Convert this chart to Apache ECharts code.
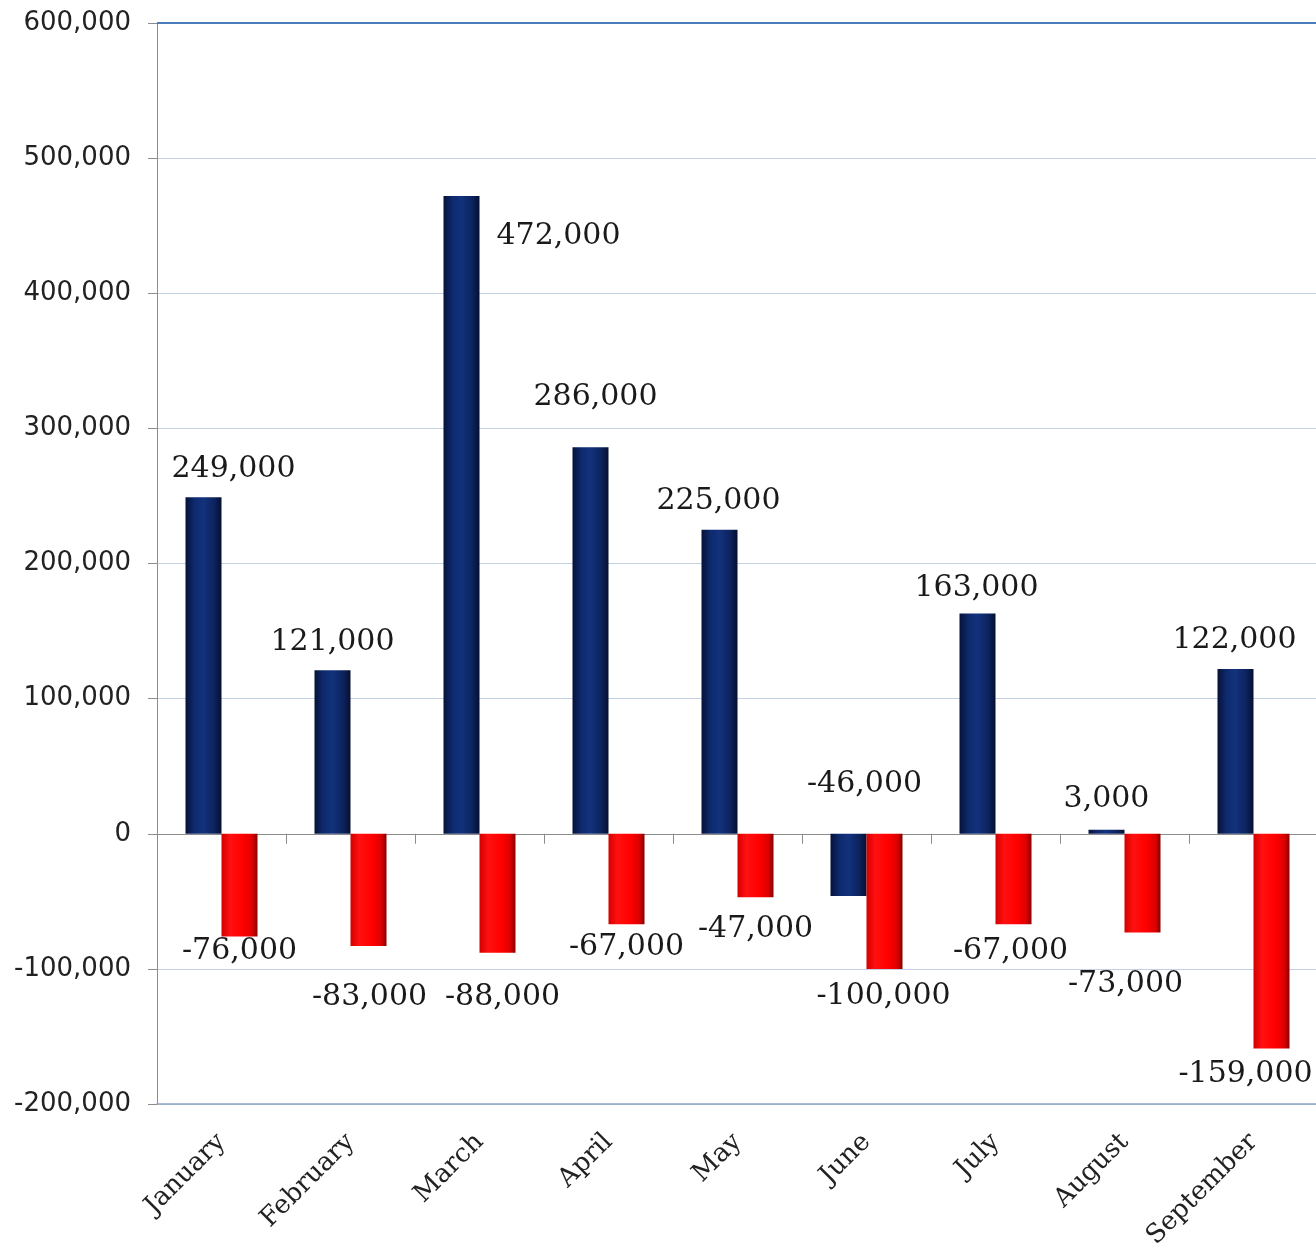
<!DOCTYPE html>
<html>
<head>
<meta charset="utf-8">
<script src="https://cdn.jsdelivr.net/npm/echarts@6/dist/echarts.min.js"></script>
<style>
  html, body { margin: 0; padding: 0; background: #ffffff; }
  #chart { width: 1316px; height: 1245px; }
</style>
</head>
<body>
<div id="chart"></div>
<script>
// ---- data ----
var months = ['January', 'February', 'March', 'April', 'May', 'June', 'July', 'August', 'September'];
var blueValues = [249000, 121000, 472000, 286000, 225000, -46000, 163000, 3000, 122000];
var redValues = [-76000, -83000, -88000, -67000, -47000, -100000, -67000, -73000, -159000];
var yMin = -200000, yMax = 600000, yStep = 100000;

// ---- label nudges (styling, as in the reference's hand-placed labels) ----
var blueLabelOffsets = [[30, -8], [0, -8], [97, 60], [5, -30], [-1, -9], [16, -30], [-1, -5], [0, -10], [-1, -9]];
var redLabelOffsets = [[0, -5], [1, 31], [5, 25], [0, 3], [0, 12], [-1, 7], [-3, 7], [-17, 32], [-26, 6]];

function fmt(v) { return Number(v).toLocaleString('en-US'); }

var labelFont = { fontFamily: 'DejaVu Serif', fontSize: 30, color: '#1a1a1a' };

var blueFill = new echarts.graphic.LinearGradient(0, 0, 1, 0, [
  { offset: 0, color: '#061238' },
  { offset: 0.25, color: '#0e2a6e' },
  { offset: 0.5, color: '#12327c' },
  { offset: 0.8, color: '#0c235e' },
  { offset: 1, color: '#050f30' }
]);
var redFill = new echarts.graphic.LinearGradient(0, 0, 1, 0, [
  { offset: 0, color: '#d40000' },
  { offset: 0.25, color: '#ff1010' },
  { offset: 0.6, color: '#ff0000' },
  { offset: 0.85, color: '#dd0000' },
  { offset: 1, color: '#8a0000' }
]);

var chart = echarts.init(document.getElementById('chart'), null, { renderer: 'canvas' });
chart.setOption({
  backgroundColor: '#ffffff',
  animation: false,
  grid: { left: 157, top: 23, width: 1161, height: 1081, containLabel: false, outerBoundsMode: 'none' },
  xAxis: [
    {
      type: 'category',
      data: months,
      position: 'bottom',
      axisLine: { onZero: false, show: true, lineStyle: { color: '#8ea4c8', width: 1.5 } },
      axisTick: { show: false },
      axisLabel: {
        rotate: 45, margin: 34, interval: 0,
        fontFamily: 'DejaVu Serif', fontSize: 26, color: '#222'
      },
      splitLine: { show: false }
    },
    {
      type: 'category',
      data: months,
      position: 'top',
      axisLine: { onZero: true, show: true, lineStyle: { color: '#8c8c8c', width: 1 } },
      axisTick: { show: true, inside: true, length: 10, lineStyle: { color: '#8c8c8c' } },
      axisLabel: { show: false },
      splitLine: { show: false }
    }
  ],
  yAxis: {
    type: 'value',
    min: yMin, max: yMax, interval: yStep,
    axisLine: { show: true, lineStyle: { color: '#8c8c8c' } },
    axisTick: { show: true, length: 9, lineStyle: { color: '#8c8c8c' } },
    axisLabel: {
      margin: 26, formatter: fmt,
      fontFamily: 'DejaVu Sans', fontSize: 26, color: '#222'
    },
    splitLine: { show: true, lineStyle: { color: '#c3d1e4', width: 1 } }
  },
  series: [
    {
      name: 'Blue',
      type: 'bar',
      xAxisIndex: 0,
      barWidth: 36,
      barGap: '0%',
      itemStyle: { color: blueFill },
      data: blueValues.map(function (v, i) {
        return { value: v, label: { offset: blueLabelOffsets[i] } };
      }),
      label: Object.assign({ show: true, position: 'top', distance: 5, formatter: function (p) { return fmt(p.value); } }, labelFont),
      markLine: {
        silent: true, symbol: 'none', animation: false,
        label: { show: false },
        lineStyle: { color: '#4a7ebb', width: 2, type: 'solid' },
        data: [{ yAxis: yMax }]
      }
    },
    {
      name: 'Red',
      type: 'bar',
      xAxisIndex: 0,
      barWidth: 36,
      barGap: '0%',
      itemStyle: { color: redFill },
      data: redValues.map(function (v, i) {
        return { value: v, label: { offset: redLabelOffsets[i] } };
      }),
      label: Object.assign({ show: true, position: 'bottom', distance: 5, formatter: function (p) { return fmt(p.value); } }, labelFont)
    }
  ]
});
</script>
</body>
</html>
